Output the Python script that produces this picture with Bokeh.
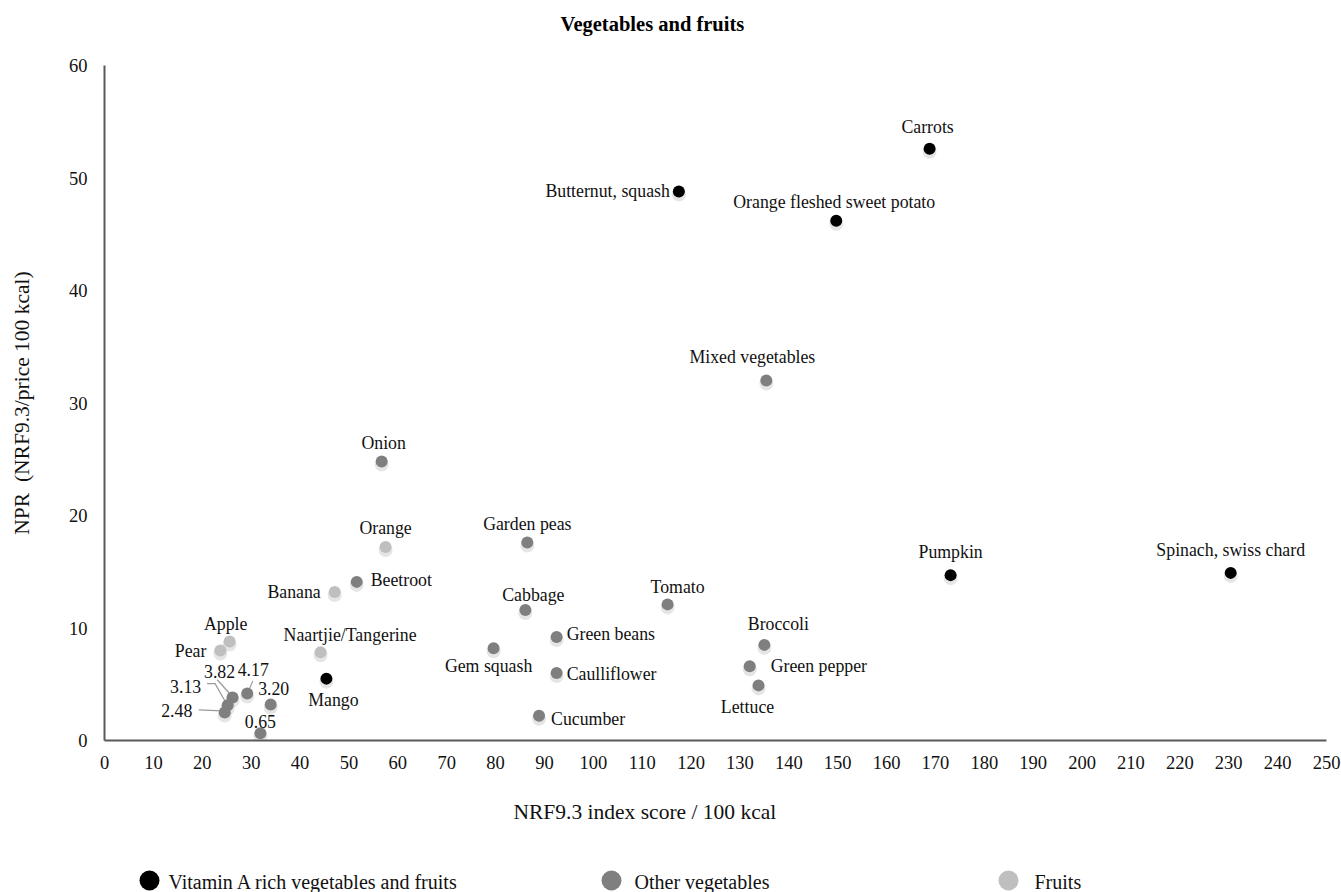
from bokeh.plotting import figure
from bokeh.models import FixedTicker, ColumnDataSource
from bokeh.layouts import column
from bokeh.embed import file_html
from bokeh.resources import INLINE
from bokeh.core.properties import value

FONT = "Liberation Serif"

# ---------------- data ----------------
title_text = "Vegetables and fruits"
x_label = "NRF9.3 index score / 100 kcal"
y_label = "NPR\u00a0\u00a0(NRF9.3/price 100 kcal)"
categories = ["Vitamin A rich vegetables and fruits", "Other vegetables", "Fruits"]
colors = ["#000000", "#7f7f7f", "#bfbfbf"]

vita_names = ["Carrots", "Butternut, squash", "Orange fleshed sweet potato",
              "Pumpkin", "Spinach, swiss chard", "Mango"]
vita_x = [168.8, 117.5, 149.7, 173.1, 230.4, 45.4]
vita_y = [52.6, 48.8, 46.2, 14.7, 14.9, 5.5]

veg_names = ["Mixed vegetables", "Onion", "Garden peas", "Beetroot", "Cabbage",
             "Tomato", "Green beans", "Gem squash", "Caulliflower", "Cucumber",
             "Broccoli", "Green pepper", "Lettuce",
             "4.17", "3.82", "3.13", "2.48", "3.20", "0.65"]
veg_x = [135.4, 56.7, 86.5, 51.6, 86.1, 115.2, 92.5, 79.6, 92.5, 88.9,
         135.0, 132.0, 133.8, 29.2, 26.2, 25.2, 24.6, 34.0, 31.9]
veg_y = [32.0, 24.8, 17.6, 14.1, 11.6, 12.1, 9.2, 8.2, 6.0, 2.2,
         8.5, 6.6, 4.9, 4.17, 3.82, 3.13, 2.48, 3.20, 0.65]

fruit_names = ["Orange", "Banana", "Apple", "Pear", "Naartjie/Tangerine"]
fruit_x = [57.5, 47.1, 25.6, 23.7, 44.2]
fruit_y = [17.2, 13.2, 8.8, 8.0, 7.85]

x_ticks = list(range(0, 251, 10))
y_ticks = list(range(0, 61, 10))

# ---------------- label placement (pixel offsets, style) ----------------
label_pos = {
    "Carrots": ("center", -2, -22),
    "Butternut, squash": ("right", -9, -1),
    "Orange fleshed sweet potato": ("center", -2, -19),
    "Pumpkin": ("center", 0, -23),
    "Spinach, swiss chard": ("center", 0, -23),
    "Mango": ("center", 7, 21),
    "Mixed vegetables": ("center", -14, -24),
    "Onion": ("center", 2, -19),
    "Garden peas": ("center", 0, -19),
    "Beetroot": ("left", 14, -2),
    "Cabbage": ("center", 8, -15),
    "Tomato": ("center", 10, -17),
    "Green beans": ("left", 10, -3),
    "Gem squash": ("center", -5, 18),
    "Caulliflower": ("left", 10, 1),
    "Cucumber": ("left", 12, 3),
    "Broccoli": ("center", 14, -21),
    "Green pepper": ("left", 21, 0),
    "Lettuce": ("center", -11, 22),
    "4.17": ("center", 6, -24),
    "3.82": ("center", -13, -26),
    "3.13": ("center", -42, -19),
    "2.48": ("center", -48, -2),
    "3.20": ("center", 3, -16),
    "0.65": ("center", 0, -12),
    "Orange": ("center", 0, -19),
    "Banana": ("right", -14, 0),
    "Apple": ("center", -4, -18),
    "Pear": ("right", -14, 0),
    "Naartjie/Tangerine": ("left", -37, -17),
}
leaders = {
    "4.17": [(5.6, -12.7), (0.6, -1.0)],
    "3.82": [(-15.3, -17.8), (-2.3, -3.3)],
    "3.13": [(-20.6, -21.7), (-12.6, -21.7), (-2.0, -3.0)],
    "2.48": [(-26.0, -2.7), (-2.6, -1.7)],
}

# ---------------- layout constants ----------------
W = 1341
ML, MR = 104, 15
FW = W - ML - MR
HT = 40                      # title strip
H, MT, MB = 740, 25, 40      # main chart
FH = H - MT - MB
HF = 892 - HT - H            # footer strip (x label + legend)
XS = FW / 250.0
YS = FH / 60.0


def strip(height):
    f = figure(width=W, height=height, x_range=(ML, ML + FW), y_range=(0, height),
               output_backend="svg", toolbar_location=None,
               min_border_left=ML, min_border_right=MR,
               min_border_top=0, min_border_bottom=0)
    f.axis.visible = False
    f.xgrid.visible = False
    f.ygrid.visible = False
    f.outline_line_color = None
    return f


# ---------------- title strip ----------------
head = strip(HT)
head.text([560], [HT - 23], text=[title_text], text_align="left", text_baseline="middle",
          text_font=value(FONT), text_font_size="20.5px", text_font_style="bold",
          text_color="#000000")

# ---------------- main chart ----------------
p = figure(width=W, height=H, x_range=(0, 250), y_range=(0, 60),
           output_backend="svg", toolbar_location=None,
           min_border_left=ML, min_border_right=MR,
           min_border_top=MT, min_border_bottom=MB)
p.outline_line_color = None
p.xgrid.visible = False
p.ygrid.visible = False

for ax in (p.xaxis[0], p.yaxis[0]):
    ax.axis_line_color = "#595959"
    ax.axis_line_width = 2
    ax.major_tick_line_color = None
    ax.minor_tick_line_color = None
    ax.major_label_text_font = FONT
    ax.major_label_text_font_size = "18.5px"
    ax.major_label_text_color = "#111111"
p.xaxis.ticker = FixedTicker(ticks=x_ticks)
p.yaxis.ticker = FixedTicker(ticks=y_ticks)
p.xaxis.major_label_standoff = 9
p.yaxis.major_label_standoff = 11
p.yaxis.axis_label = y_label
p.yaxis.axis_label_text_font = FONT
p.yaxis.axis_label_text_font_size = "21.5px"
p.yaxis.axis_label_text_font_style = "normal"
p.yaxis.axis_label_text_color = "#111111"
p.yaxis.axis_label_standoff = 32

groups = [(vita_names, vita_x, vita_y, colors[0]),
          (veg_names, veg_x, veg_y, colors[1]),
          (fruit_names, fruit_x, fruit_y, colors[2])]

# leader lines
lxs, lys = [], []
for names, xs, ys, c in groups:
    for n, x, y in zip(names, xs, ys):
        if n in leaders:
            lxs.append([x + dx / XS for dx, dy in leaders[n]])
            lys.append([y - dy / YS for dx, dy in leaders[n]])
p.multi_line(lxs, lys, line_color="#9a9a9a", line_width=1.2)

for names, xs, ys, c in groups:
    # soft shadow
    p.scatter(xs, [y - 3.0 / YS for y in ys], size=14,
              fill_color="#000000", fill_alpha=0.10, line_color=None)
    p.scatter(xs, ys, size=12, fill_color=c, line_color=None)
    for align in ("left", "center", "right"):
        sel = [(n, x, y) for n, x, y in zip(names, xs, ys) if label_pos[n][0] == align]
        if not sel:
            continue
        src = ColumnDataSource(dict(
            x=[s[1] for s in sel], y=[s[2] for s in sel],
            t=[s[0] for s in sel],
            xo=[label_pos[s[0]][1] for s in sel],
            yo=[label_pos[s[0]][2] for s in sel]))
        p.text(x="x", y="y", text="t", x_offset="xo", y_offset="yo", source=src,
               text_align=align, text_baseline="middle",
               text_font=value(FONT), text_font_size="17.8px", text_color="#111111")

# ---------------- footer strip: x-axis title and legend ----------------
foot = strip(HF)
foot.text([513], [HF - 31], text=[x_label], text_align="left", text_baseline="middle",
          text_font=value(FONT), text_font_size="21.5px", text_color="#111111")
leg_marker_x = [149, 611, 1008]
leg_text_x = [168, 634, 1034]
foot.scatter(leg_marker_x, [12] * 3, size=20, fill_color=colors, line_color=None)
foot.text(leg_text_x, [11] * 3, text=categories,
          text_align="left", text_baseline="middle",
          text_font=value(FONT), text_font_size="20px", text_color="#111111")

layout = column(head, p, foot, spacing=0)
open("out.html", "w").write(file_html(layout, INLINE))
